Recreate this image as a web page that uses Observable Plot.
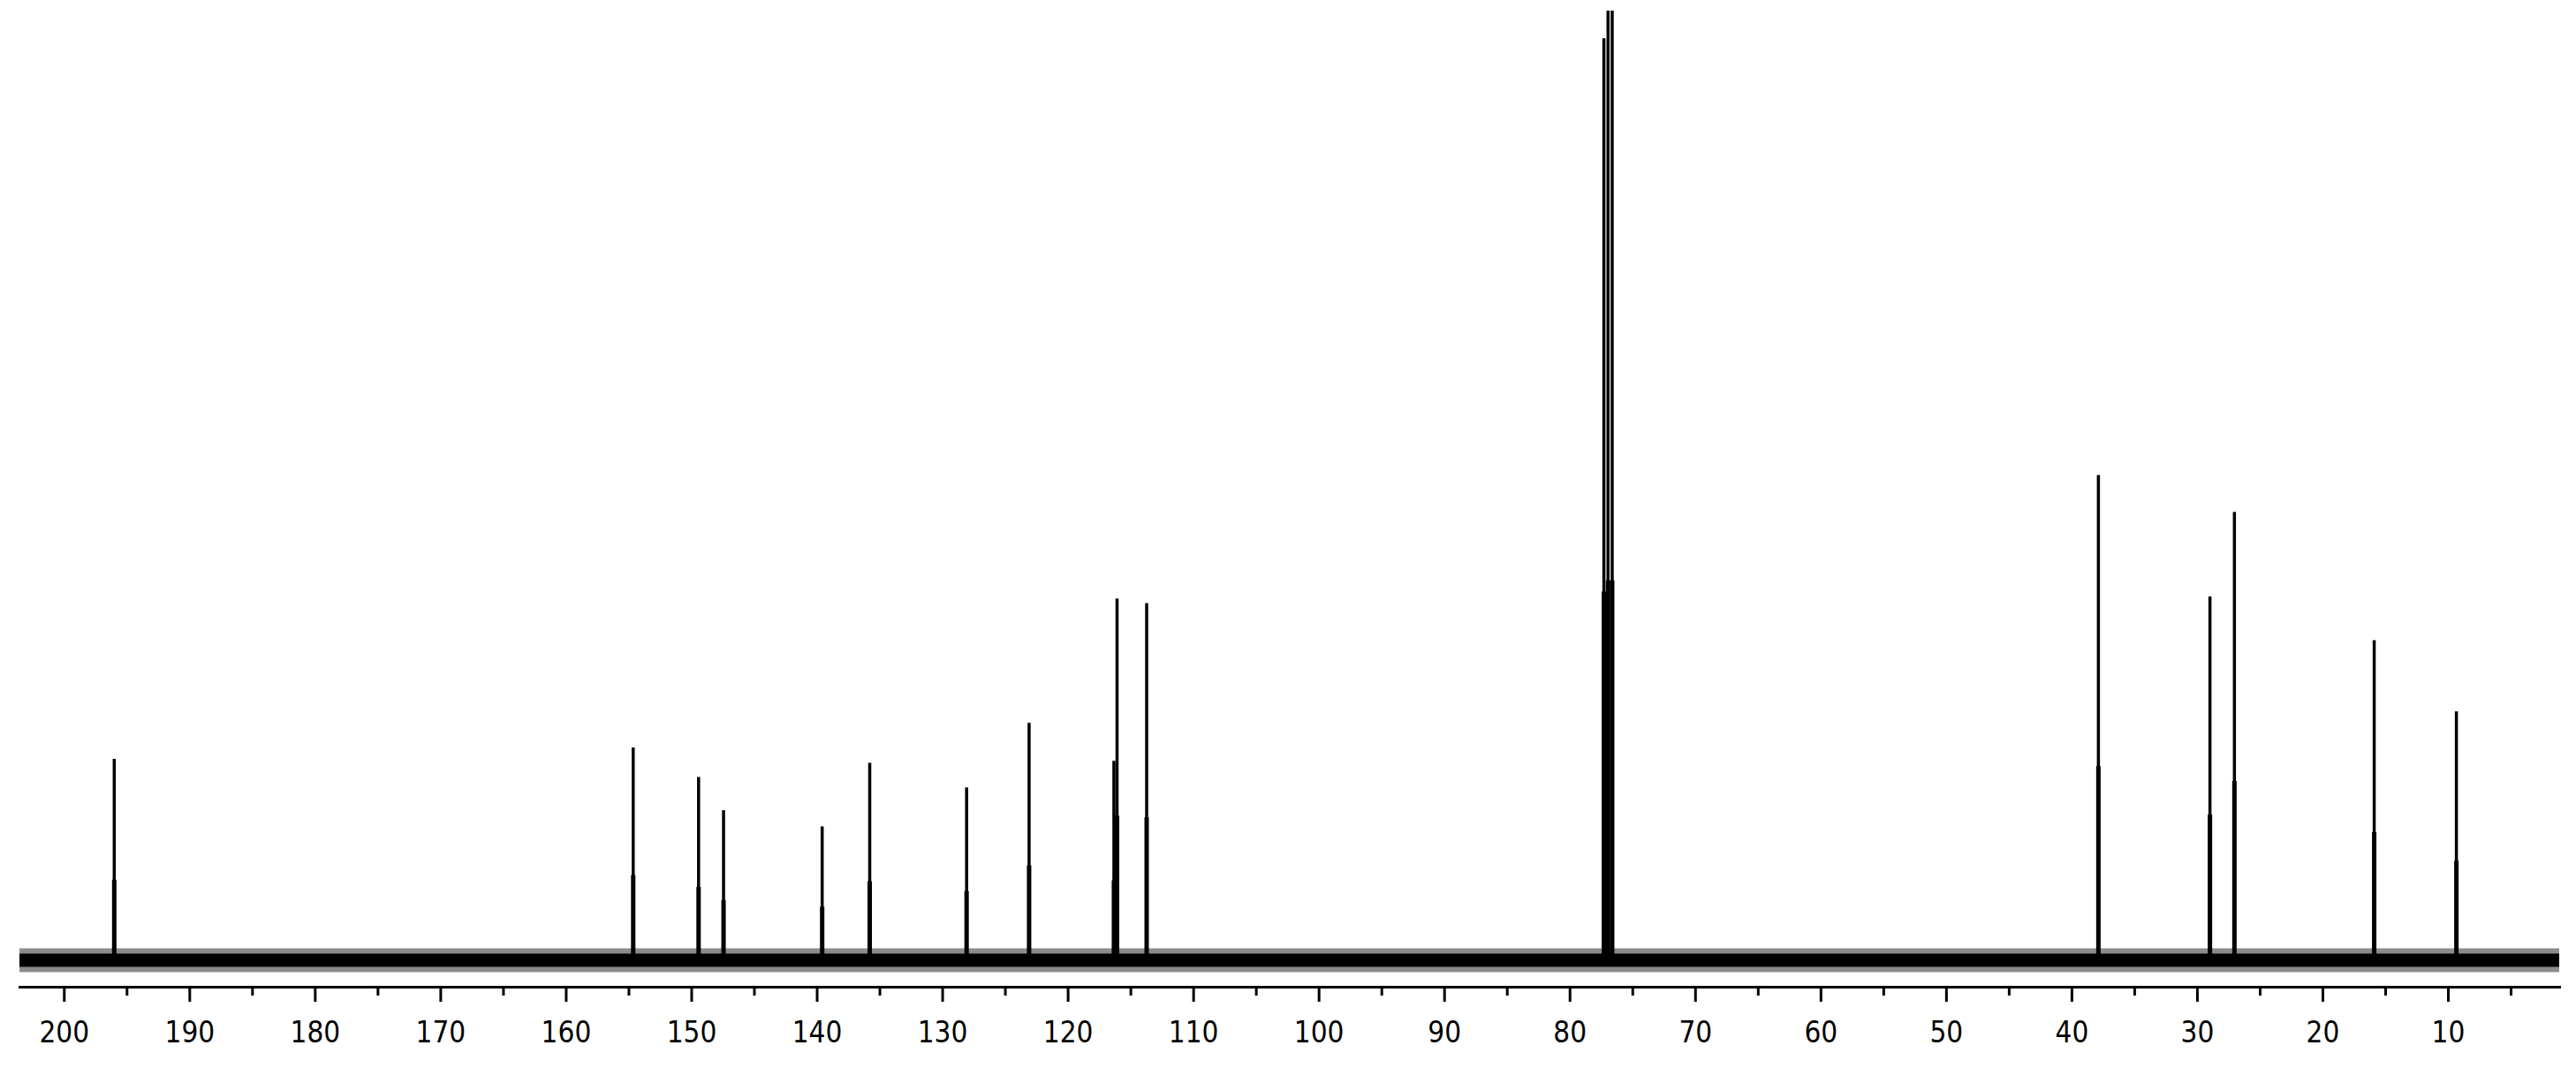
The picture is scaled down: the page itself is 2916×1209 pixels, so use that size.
<!DOCTYPE html>
<html>
<head>
<meta charset="utf-8">
<script src="https://cdn.jsdelivr.net/npm/d3@7"></script>
<script src="https://cdn.jsdelivr.net/npm/@observablehq/plot@0.6"></script>
<style>
  html, body { margin: 0; padding: 0; background: #fff; }
  #chart { width: 2916px; height: 1209px; overflow: hidden; }
</style>
</head>
<body>
<div id="chart"></div>
<script>
// Peak positions (ppm) and relative intensities
const peakPpm = [196.02, 154.66, 149.45, 147.46, 139.6, 135.81, 128.09, 123.11, 116.35, 116.1, 113.74, 77.3, 76.97, 76.64, 37.89, 29.0, 27.05, 15.91, 9.36];
const peakHeight = [21.2, 22.4, 19.3, 15.8, 14.1, 20.8, 18.2, 25.0, 21.0, 38.1, 37.6, 97.1, 100, 100, 51.1, 38.3, 47.2, 33.7, 26.2];

// Baseline noise envelope (relative intensity units)
const noiseRange = [203.54, 1.13];
const noiseCore = [-0.7, 0.7];
const noiseSpikes = [-1.25, 1.25];

// Axis tick labels
const majorTicks = [200, 190, 180, 170, 160, 150, 140, 130, 120, 110, 100, 90, 80, 70, 60, 50, 40, 30, 20, 10];
const minorTicks = [195, 185, 175, 165, 155, 145, 135, 125, 115, 105, 95, 85, 75, 65, 55, 45, 35, 25, 15, 5];

const peaks = peakPpm.map((p, i) => ({ppm: p, h: peakHeight[i]}));
const noise = noiseRange.map(p => ({ppm: p, lo: noiseCore[0], hi: noiseCore[1], slo: noiseSpikes[0], shi: noiseSpikes[1]}));

const chart = Plot.plot({
  width: 2916,
  height: 1209,
  marginLeft: 22,
  marginRight: 19,
  marginTop: 12,
  marginBottom: 92,
  style: {fontFamily: "'DejaVu Sans Condensed', 'DejaVu Sans', sans-serif", fontSize: "33px", color: "#000", background: "#fff"},
  x: {domain: [203.54, 1.13], label: null},
  y: {domain: [-2.79, 100], axis: null},
  marks: [
    Plot.areaY(noise, {x: "ppm", y1: "slo", y2: "shi", fill: "#000", fillOpacity: 0.45}),
    Plot.areaY(noise, {x: "ppm", y1: "lo", y2: "hi", fill: "#000"}),
    Plot.ruleX(peaks, {x: "ppm", y1: 0, y2: d => d.h * 0.4, stroke: "#000", strokeWidth: 5}),
    Plot.ruleX(peaks, {x: "ppm", y1: 0, y2: "h", stroke: "#000", strokeWidth: 3.5}),
    Plot.frame({anchor: "bottom", stroke: "#000", strokeWidth: 3}),
    Plot.axisX({ticks: minorTicks, tickSize: 10, strokeWidth: 3, text: null, label: null}),
    Plot.axisX({ticks: majorTicks, tickSize: 17, tickPadding: 22, strokeWidth: 3, tickFormat: d => String(d), fill: "#000", fontSize: 33, label: null})
  ]
});
document.getElementById("chart").appendChild(chart);
</script>
</body>
</html>
